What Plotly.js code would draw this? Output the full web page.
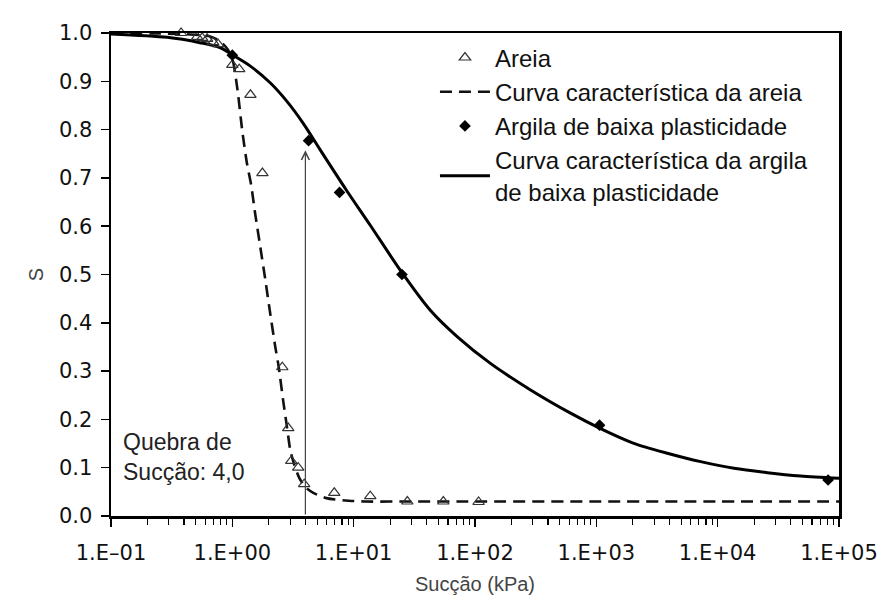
<!DOCTYPE html>
<html>
<head>
<meta charset="utf-8">
<script src="https://cdn.plot.ly/plotly-3.0.1.min.js"></script>
<style>
  html, body { margin: 0; padding: 0; background: #ffffff; }
  #chart { width: 888px; height: 603px; }
</style>
</head>
<body>
<div id="chart"></div>
<script>
// Measured points: sand (Areia)
const areiaSuccao = [0.378, 0.513, 0.564, 0.62, 0.695, 0.764, 1.0, 1.14, 1.41, 1.77, 2.58, 2.89, 3.06, 3.49, 3.91, 6.92, 13.7, 27.7, 54.8, 107];
const areiaS      = [1.0, 0.992, 0.990, 0.988, 0.981, 0.977, 0.934, 0.925, 0.872, 0.710, 0.308, 0.182, 0.114, 0.100, 0.066, 0.048, 0.041, 0.030, 0.030, 0.029];

// Fitted retention curve for the sand
const curvaAreiaSuccao = [0.1, 0.254, 0.449, 0.656, 0.793, 0.923, 1.015, 1.074, 1.117, 1.205, 1.318, 1.43, 1.54, 1.70, 1.87, 2.05, 2.26, 2.41, 2.62, 2.83, 3.00, 3.24, 3.56, 3.99, 4.65, 5.95, 8.53, 12.5, 30, 100, 1000, 10000, 100000];
const curvaAreiaS      = [0.999, 0.999, 0.997, 0.993, 0.983, 0.965, 0.940, 0.903, 0.872, 0.799, 0.731, 0.685, 0.627, 0.557, 0.489, 0.420, 0.350, 0.309, 0.240, 0.182, 0.137, 0.106, 0.079, 0.060, 0.048, 0.037, 0.032, 0.030, 0.030, 0.030, 0.030, 0.030, 0.030];

// Measured points: low-plasticity clay
const argilaSuccao = [1.0, 4.25, 7.65, 25.0, 1063, 81300];
const argilaS      = [0.954, 0.777, 0.670, 0.500, 0.188, 0.0745];

// Fitted retention curve for the clay
const curvaArgilaSuccao = [0.1, 0.29, 0.54, 0.79, 1.0, 1.4, 2.05, 2.83, 3.84, 5.30, 8.69, 13.7, 24.2, 42.8, 71.6, 134, 287, 613, 1084, 2037, 3846, 7244, 13620, 25700, 48400, 100000];
const curvaArgilaS      = [0.998, 0.991, 0.980, 0.970, 0.955, 0.932, 0.897, 0.858, 0.813, 0.758, 0.675, 0.602, 0.509, 0.426, 0.371, 0.316, 0.261, 0.213, 0.181, 0.1505, 0.130, 0.1125, 0.0988, 0.0897, 0.0828, 0.0779];

// Suction break of the sand
const quebraSuccao = 4.0;
const quebraTopoS = 0.757;

// Axis tick labels
const xTickVals = [0.1, 1, 10, 100, 1000, 10000, 100000];
const xTickText = ['1.E\u201301', '1.E+00', '1.E+01', '1.E+02', '1.E+03', '1.E+04', '1.E+05'];

// Minor ticks at 2..9 of each decade
const minorVals = [];
for (let d = -1; d < 5; d++) {
  for (let m = 2; m <= 9; m++) minorVals.push(m * Math.pow(10, d));
}

const textFont = 'Liberation Sans, Arial, sans-serif';
const tickFont = 'DejaVu Sans, sans-serif';

const traces = [
  {
    name: 'Curva característica da areia',
    x: curvaAreiaSuccao, y: curvaAreiaS,
    mode: 'lines', type: 'scatter',
    line: { color: '#111', width: 2.6, dash: '12px,7px', shape: 'spline', smoothing: 0.6 },
    legendrank: 2, hoverinfo: 'skip'
  },
  {
    name: 'Curva característica da argila<br>de baixa plasticidade',
    x: curvaArgilaSuccao, y: curvaArgilaS,
    mode: 'lines', type: 'scatter',
    line: { color: '#000', width: 3, shape: 'spline', smoothing: 0.8 },
    legendrank: 4, hoverinfo: 'skip'
  },
  {
    name: 'Areia',
    x: areiaSuccao, y: areiaS,
    mode: 'markers', type: 'scatter', cliponaxis: false,
    marker: { symbol: 'triangle-up-open', size: 10, color: '#333', line: { width: 1.2, color: '#333' } },
    legendrank: 1
  },
  {
    name: 'Argila de baixa plasticidade',
    x: argilaSuccao, y: argilaS,
    mode: 'markers', type: 'scatter', cliponaxis: false,
    marker: { symbol: 'diamond', size: 9, color: '#000' },
    legendrank: 3
  }
];

const layout = {
  width: 888, height: 603,
  margin: { l: 111, r: 49, t: 33, b: 87 },
  paper_bgcolor: '#ffffff', plot_bgcolor: '#ffffff',
  showlegend: true,
  legend: {
    x: 0.445, y: 0.995, xanchor: 'left', yanchor: 'top',
    bgcolor: 'rgba(0,0,0,0)', borderwidth: 0,
    font: { family: textFont, size: 24, color: '#111' },
    traceorder: 'normal', itemwidth: 50
  },
  xaxis: {
    type: 'log', range: [-1, 5],
    tickmode: 'array', tickvals: xTickVals, ticktext: xTickText,
    ticks: 'outside', ticklen: 8, tickwidth: 1.5, tickcolor: '#000',
    minor: { tickmode: 'array', tickvals: minorVals, ticks: 'outside', ticklen: 6, tickwidth: 1.2, tickcolor: '#000', showgrid: false },
    showgrid: false, zeroline: false,
    showline: true, linecolor: '#000', linewidth: 2.5, mirror: true,
    tickfont: { family: tickFont, size: 21, color: '#111' },
    ticklabelstandoff: 8,
    title: { text: 'Sucção (kPa)', font: { family: textFont, size: 20, color: '#444' }, standoff: 14 }
  },
  yaxis: {
    range: [0, 1], dtick: 0.1, tick0: 0, tickformat: '.1f',
    ticks: 'outside', ticklen: 8, tickwidth: 1.5, tickcolor: '#000',
    showgrid: false, zeroline: false,
    showline: true, linecolor: '#000', linewidth: 2.5, mirror: true,
    tickfont: { family: tickFont, size: 21, color: '#111' },
    ticklabelstandoff: 4,
    title: { text: 'S', font: { family: textFont, size: 20, color: '#444' }, standoff: 10 }
  },
  annotations: [
    {
      x: Math.log10(quebraSuccao), y: quebraTopoS, xref: 'x', yref: 'y',
      ax: Math.log10(quebraSuccao), ay: 0, axref: 'x', ayref: 'y',
      showarrow: true, arrowhead: 5, arrowsize: 1.3, arrowwidth: 1.2, arrowcolor: '#444',
      standoff: 0, startstandoff: 0, text: ''
    },
    {
      x: 0.014, y: 0.185, xref: 'paper', yref: 'paper', xanchor: 'left', yanchor: 'top',
      showarrow: false, align: 'left',
      text: 'Quebra de<br>Sucção: 4,0',
      font: { family: textFont, size: 23, color: '#222' }
    }
  ]
};

Plotly.newPlot('chart', traces, layout, { displayModeBar: false, staticPlot: true });
</script>
</body>
</html>
